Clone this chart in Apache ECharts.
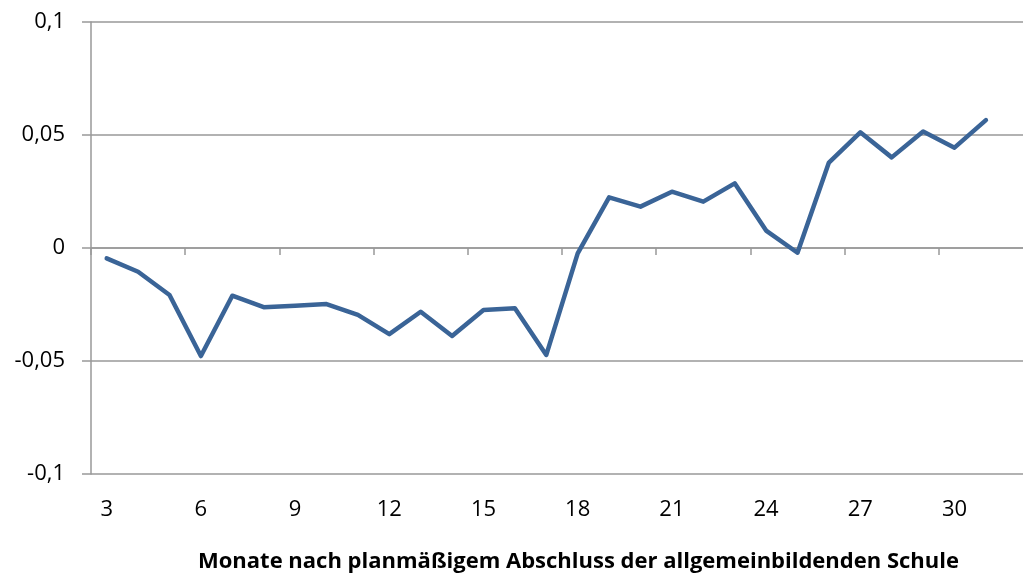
<!DOCTYPE html>
<html>
<head>
<meta charset="utf-8">
<script src="https://cdn.jsdelivr.net/npm/echarts@6/dist/echarts.min.js"></script>
<style>
  html, body { margin: 0; padding: 0; background: #fff; overflow: hidden; }
  #chart { width: 1040px; height: 574px; }
</style>
</head>
<body>
<div id="chart"></div>
<script>
// Months after the scheduled end of general schooling (last slot is left empty)
const months = [3, 4, 5, 6, 7, 8, 9, 10, 11, 12, 13, 14, 15, 16, 17, 18, 19, 20, 21, 22, 23, 24, 25, 26, 27, 28, 29, 30, 31, 32];
const effect = [
  -0.0046, -0.0105, -0.0208, -0.0478, -0.0211, -0.0262, -0.0256, -0.0248, -0.0296, -0.0381,
  -0.0282, -0.0389, -0.0274, -0.0267, -0.0473, -0.0024, 0.0224, 0.0183, 0.0249, 0.0205,
  0.0286, 0.0077, -0.0021, 0.0378, 0.0512, 0.0401, 0.0515, 0.0444, 0.0566, null
];
const yTicks = [-0.1, -0.05, 0, 0.05, 0.1];
const axisTitle = 'Monate nach planmäßigem Abschluss der allgemeinbildenden Schule';

const FONT = '"Open Sans", "Liberation Sans", sans-serif';
const GRAY = '#999999';

const chart = echarts.init(document.getElementById('chart'), null, { renderer: 'canvas' });

const fmt = v => {
  const s = String(Math.round(v * 1000) / 1000);
  return s.replace('.', ',');
};

chart.setOption({
  animation: false,
  backgroundColor: '#ffffff',
  title: {
    text: axisTitle,
    left: 193,
    top: 546,
    textStyle: { fontFamily: FONT, fontWeight: 'bold', fontSize: 22, color: '#000' }
  },
  grid: { left: 91, top: 22, width: 942, bottom: 100, containLabel: false },
  xAxis: [
    {
      // label axis sitting under the plot
      type: 'category',
      data: months,
      position: 'bottom',
      boundaryGap: true,
      axisLine: { show: false, onZero: false },
      axisTick: { show: false },
      axisLabel: {
        interval: 2,
        margin: 25,
        fontFamily: FONT, fontSize: 22, color: '#000'
      },
      splitLine: { show: false }
    },
    {
      // axis line crossing at zero with tick marks every third month
      type: 'category',
      data: months,
      position: 'bottom',
      boundaryGap: true,
      axisLine: { show: true, onZero: true, lineStyle: { color: GRAY, width: 1.5 } },
      axisTick: { show: true, interval: 2, length: 7, lineStyle: { color: GRAY, width: 1.5 } },
      axisLabel: { show: false },
      splitLine: { show: false }
    }
  ],
  yAxis: {
    type: 'value',
    min: yTicks[0],
    max: yTicks[yTicks.length - 1],
    interval: 0.05,
    axisLine: { show: true, lineStyle: { color: GRAY, width: 1.5 } },
    axisTick: { show: true, length: 9, lineStyle: { color: GRAY, width: 1.5 } },
    axisLabel: {
      margin: 26,
      formatter: fmt,
      fontFamily: FONT, fontSize: 22, color: '#000'
    },
    splitLine: { show: true, lineStyle: { color: GRAY, width: 1.5 } }
  },
  series: [{
    type: 'line',
    xAxisIndex: 0,
    data: effect,
    symbol: 'none',
    lineStyle: { color: '#3A6497', width: 4.5, join: 'round', cap: 'round' },
    itemStyle: { color: '#3A6497' }
  }]
});
</script>
</body>
</html>
